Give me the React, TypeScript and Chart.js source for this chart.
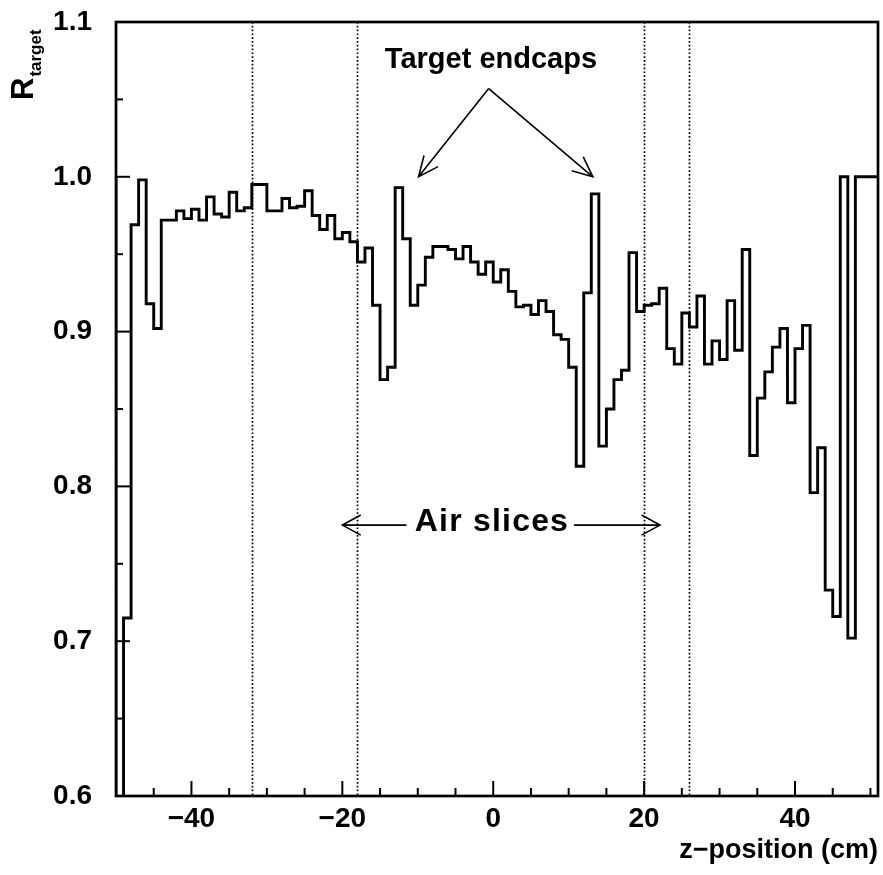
import React, { useEffect, useRef } from 'react';
import { Chart, registerables } from 'chart.js';

Chart.register(...registerables);

// Histogram binning along the beam axis (cm)
const BIN_START = -50;
const BIN_WIDTH = 1;

// R_target per 1 cm bin, from z = -50 cm to z = 51 cm
const ratioPerBin = [
  1.000, 0.550, 0.715, 0.969, 0.998, 0.918, 0.902, 0.972, 0.972, 0.978, // -50 .. -41
  0.973, 0.979, 0.972, 0.987, 0.976, 0.974, 0.990, 0.978, 0.980, 0.995, // -40 .. -31
  0.995, 0.978, 0.978, 0.986, 0.980, 0.981, 0.991, 0.975, 0.966, 0.975, // -30 .. -21
  0.960, 0.964, 0.958, 0.945, 0.954, 0.917, 0.869, 0.877, 0.993, 0.960, // -20 .. -11
  0.917, 0.930, 0.948, 0.955, 0.955, 0.953, 0.947, 0.955, 0.945, 0.937, // -10 .. -1
  0.945, 0.932, 0.940, 0.926, 0.916, 0.917, 0.911, 0.920, 0.913, 0.898, //   0 .. 9
  0.895, 0.877, 0.813, 0.925, 0.989, 0.826, 0.850, 0.869, 0.875, 0.951, //  10 .. 19
  0.913, 0.917, 0.918, 0.928, 0.889, 0.879, 0.912, 0.903, 0.923, 0.879, //  20 .. 29
  0.894, 0.882, 0.920, 0.888, 0.953, 0.820, 0.857, 0.874, 0.890, 0.902, //  30 .. 39
  0.854, 0.889, 0.904, 0.796, 0.825, 0.733, 0.716, 1.000, 0.702, 1.000, //  40 .. 49
  1.000,                                                                 //  50
];

// Axis ticks
const zMajorTicks = [-40, -20, 0, 20, 40];
const zMinorTicks = [-45, -35, -30, -25, -15, -10, -5, 5, 10, 15, 25, 30, 35, 45, 50];
const rMajorTicks = [0.6, 0.7, 0.8, 0.9, 1.0, 1.1];
const rMinorTicks = [0.65, 0.75, 0.85, 0.95, 1.05];

// Dotted boundaries of the target cell and air slices (cm)
const boundaryZ = [-32, -18, 20, 26];

// Annotation texts
const endcapText = 'Target endcaps';
const airText = 'Air slices';
const yTitleMain = 'R';
const yTitleSub = 'target';
const xTitle = 'z\u2212position (cm)';

const FONT = "'Liberation Sans', Arial, sans-serif";

function drawArrow(ctx: CanvasRenderingContext2D, x1: number, y1: number, x2: number, y2: number, head: number, spread: number) {
  const a = Math.atan2(y2 - y1, x2 - x1);
  ctx.beginPath();
  ctx.moveTo(x1, y1);
  ctx.lineTo(x2, y2);
  ctx.moveTo(x2 - head * Math.cos(a - spread), y2 - head * Math.sin(a - spread));
  ctx.lineTo(x2, y2);
  ctx.lineTo(x2 - head * Math.cos(a + spread), y2 - head * Math.sin(a + spread));
  ctx.stroke();
}

const decorations = {
  id: 'decorations',
  beforeDatasetsDraw(chart: any) {
    const { ctx, chartArea: a, scales } = chart;
    const xs = scales.x;
    ctx.save();
    ctx.strokeStyle = '#000';
    ctx.lineWidth = 1.7;
    ctx.setLineDash([1.7, 2.1]);
    for (const z of boundaryZ) {
      const px = Math.round(xs.getPixelForValue(z)) + 0.5;
      ctx.beginPath();
      ctx.moveTo(px, a.top);
      ctx.lineTo(px, a.bottom);
      ctx.stroke();
    }
    ctx.restore();
  },
  afterDatasetsDraw(chart: any) {
    const { ctx, chartArea: a, scales } = chart;
    const xs = scales.x;
    const ys = scales.y;
    ctx.save();
    ctx.strokeStyle = '#000';
    ctx.fillStyle = '#000';

    // inward tick marks
    ctx.lineWidth = 2;
    const tick = (px: number, py: number, dx: number, dy: number) => {
      ctx.beginPath();
      ctx.moveTo(px, py);
      ctx.lineTo(px + dx, py + dy);
      ctx.stroke();
    };
    for (const z of zMajorTicks) tick(xs.getPixelForValue(z), a.bottom, 0, -15);
    for (const z of zMinorTicks) tick(xs.getPixelForValue(z), a.bottom, 0, -8);
    for (const r of rMajorTicks) tick(a.left, ys.getPixelForValue(r), 14, 0);
    for (const r of rMinorTicks) tick(a.left, ys.getPixelForValue(r), 7, 0);

    // frame
    ctx.lineWidth = 2.7;
    ctx.strokeRect(a.left, a.top, a.right - a.left, a.bottom - a.top);

    // target endcap annotation
    ctx.textAlign = 'center';
    ctx.textBaseline = 'middle';
    ctx.font = `bold 29px ${FONT}`;
    ctx.fillText(endcapText, xs.getPixelForValue(-0.3), ys.getPixelForValue(1.0755));
    ctx.lineWidth = 1.6;
    const ax = xs.getPixelForValue(-0.6);
    const ay = ys.getPixelForValue(1.057);
    drawArrow(ctx, ax, ay, xs.getPixelForValue(-9.9), ys.getPixelForValue(1.0), 22, 0.42);
    drawArrow(ctx, ax, ay, xs.getPixelForValue(13.2), ys.getPixelForValue(1.0), 22, 0.42);

    // air slice annotation
    ctx.font = `bold 32px ${FONT}`;
    (ctx as any).letterSpacing = '1.2px';
    ctx.fillText(airText, xs.getPixelForValue(-0.3) + 1, ys.getPixelForValue(0.777));
    (ctx as any).letterSpacing = '0px';
    const ry = ys.getPixelForValue(0.775);
    drawArrow(ctx, xs.getPixelForValue(-11.5), ry, xs.getPixelForValue(-20), ry, 21, 0.5);
    drawArrow(ctx, xs.getPixelForValue(10.7), ry, xs.getPixelForValue(22.1), ry, 21, 0.5);

    // rotated y-axis title with subscript
    ctx.translate(a.left - 83, a.top + 78);
    ctx.rotate(-Math.PI / 2);
    ctx.textAlign = 'left';
    ctx.textBaseline = 'alphabetic';
    ctx.font = `bold 31px ${FONT}`;
    ctx.fillText(yTitleMain, 0, 0);
    const w = ctx.measureText(yTitleMain).width;
    ctx.font = `bold 17px ${FONT}`;
    ctx.fillText(yTitleSub, w + 1, 8);
    ctx.restore();
  },
};

export default function App() {
  const canvasRef = useRef<HTMLCanvasElement | null>(null);

  useEffect(() => {
    document.body.style.margin = '0';
    const canvas = canvasRef.current;
    if (!canvas) return;

    const points = ratioPerBin.map((r, i) => ({ x: BIN_START + i * BIN_WIDTH, y: r }));
    const last = ratioPerBin[ratioPerBin.length - 1];
    points.push({ x: BIN_START + ratioPerBin.length * BIN_WIDTH, y: last });

    const chart = new Chart(canvas, {
      type: 'line',
      data: {
        datasets: [
          {
            data: points,
            stepped: 'after',
            borderColor: '#000',
            borderWidth: 2.9,
            pointRadius: 0,
            fill: false,
            tension: 0,
          },
        ],
      },
      options: {
        responsive: false,
        animation: false,
        devicePixelRatio: 1,
        layout: { padding: { top: 22, right: 5, left: 0, bottom: 0 } },
        plugins: { legend: { display: false }, tooltip: { enabled: false } },
        scales: {
          x: {
            type: 'linear',
            min: BIN_START,
            max: BIN_START + ratioPerBin.length * BIN_WIDTH,
            afterBuildTicks: (scale: any) => {
              scale.ticks = zMajorTicks.map((v) => ({ value: v }));
            },
            afterFit: (scale: any) => {
              scale.height = 79;
              scale.paddingLeft = 0;
              scale.paddingRight = 0;
            },
            grid: { display: false, drawTicks: false },
            border: { display: false },
            ticks: {
              padding: 6,
              color: '#000',
              maxRotation: 0,
              autoSkip: false,
              font: { family: FONT, size: 28, weight: 'bold' },
              callback: (v: any) => (Number(v) < 0 ? '\u2212' + Math.abs(Number(v)) : String(v)),
            },
            title: {
              display: true,
              text: xTitle,
              align: 'end',
              color: '#000',
              font: { family: FONT, size: 27, weight: 'bold' },
              padding: { top: 0, bottom: 8 },
            },
          },
          y: {
            type: 'linear',
            min: 0.6,
            max: 1.1,
            afterBuildTicks: (scale: any) => {
              scale.ticks = rMajorTicks.map((v) => ({ value: v }));
            },
            afterFit: (scale: any) => {
              scale.width = 116;
              scale.paddingTop = 0;
              scale.paddingBottom = 0;
            },
            grid: { display: false, drawTicks: false },
            border: { display: false },
            ticks: {
              padding: 24,
              color: '#000',
              autoSkip: false,
              font: { family: FONT, size: 28, weight: 'bold' },
              callback: (v: any) => Number(v).toFixed(1),
            },
          },
        },
      },
      plugins: [decorations],
    });

    return () => chart.destroy();
  }, []);

  return (
    <div style={{ width: 883, height: 875, background: '#fff' }}>
      <canvas ref={canvasRef} width={883} height={875} />
    </div>
  );
}
